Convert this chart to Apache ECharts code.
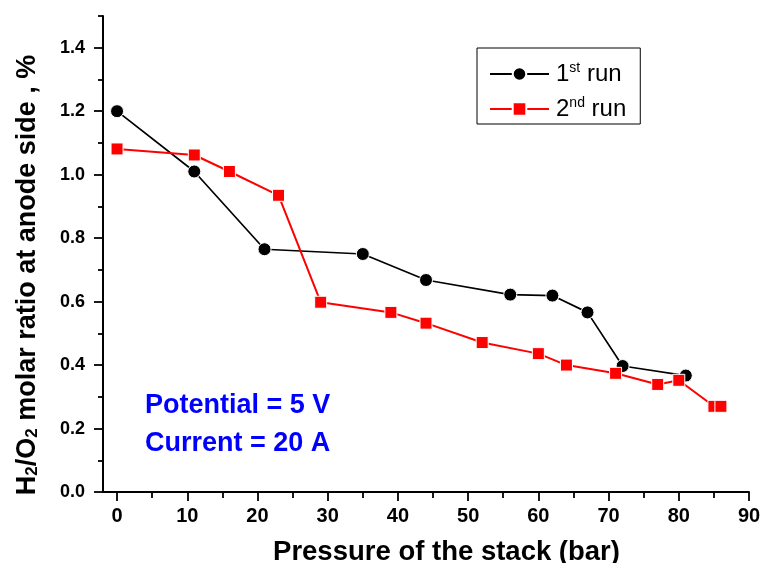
<!DOCTYPE html>
<html>
<head>
<meta charset="utf-8">
<script src="https://cdn.jsdelivr.net/npm/echarts@6/dist/echarts.min.js"></script>
<style>
  html, body { margin: 0; padding: 0; background: #fff; }
  #chart { width: 763px; height: 563px; }
</style>
</head>
<body>
<div id="chart"></div>
<script>
// data
const run1X = [0, 11, 21, 35, 44, 56, 62, 67, 72, 81];
const run1Y = [1.2, 1.01, 0.765, 0.75, 0.668, 0.622, 0.619, 0.566, 0.397, 0.367];
const run2X = [0, 11, 16, 23, 29, 39, 44, 52, 60, 64, 71, 77, 80, 85, 86];
const run2Y = [1.081, 1.062, 1.01, 0.935, 0.598, 0.566, 0.532, 0.471, 0.436, 0.4, 0.374, 0.339, 0.352, 0.27, 0.27];

const xTicks = [0, 10, 20, 30, 40, 50, 60, 70, 80, 90];
const xMinorTicks = [5, 15, 25, 35, 45, 55, 65, 75, 85];
const yTicks = [0, 0.2, 0.4, 0.6, 0.8, 1.0, 1.2, 1.4];
const yMinorTicks = [0.1, 0.3, 0.5, 0.7, 0.9, 1.1, 1.3, 1.5];

const FONT = "'Liberation Sans', Arial, sans-serif";

const chart = echarts.init(document.getElementById("chart"));

function pairs(xs, ys) {
  return xs.map((x, i) => [x, ys[i]]);
}

const lineAxis = { show: true, onZero: false, lineStyle: { color: "#000", width: 2 } };

const option = {
  backgroundColor: "#fff",
  animation: false,
  grid: {
    left: 103,
    right: 14,
    top: 16,
    bottom: 71,
    containLabel: false,
    outerBoundsMode: "none",
  },
  legend: {
    left: 477,
    top: 48,
    orient: "vertical",
    padding: [12, 14, 1, 12],
    itemGap: 7,
    itemWidth: 59,
    itemHeight: 17,
    borderColor: "#000",
    borderWidth: 1,
    formatter: (name) => name.replace(/^(\d)(st|nd)/, "$1{sup|$2}"),
    textStyle: {
      fontFamily: FONT,
      fontSize: 24,
      lineHeight: 28,
      color: "#000",
      padding: [0, 0, 0, 2],
      rich: {
        sup: { fontFamily: FONT, fontSize: 14, lineHeight: 14, verticalAlign: "top", padding: [1, 0, 0, 0], color: "#000" },
      },
    },
  },
  xAxis: [
    {
      type: "value",
      min: -2,
      max: 90,
      name: "Pressure of the stack (bar)",
      nameLocation: "middle",
      nameGap: 46,
      nameTextStyle: { fontFamily: FONT, fontSize: 27.5, fontWeight: "bold", color: "#000", padding: [0, 0, 0, 41] },
      axisLine: lineAxis,
      axisTick: { show: true, customValues: xTicks, length: 9, lineStyle: { color: "#000", width: 1.8 } },
      axisLabel: { customValues: xTicks, margin: 14, fontFamily: FONT, fontSize: 20, fontWeight: "bold", color: "#000" },
      splitLine: { show: false },
    },
    {
      type: "value",
      min: -2,
      max: 90,
      position: "bottom",
      axisLine: { show: false, onZero: false },
      axisTick: { show: true, customValues: xMinorTicks, length: 6, lineStyle: { color: "#000", width: 1.8 } },
      axisLabel: { show: false },
      splitLine: { show: false },
    },
  ],
  yAxis: [
    {
      type: "value",
      min: 0,
      max: 1.5,
      name: "H{sub|2}/O{sub|2} molar ratio at anode side , %",
      nameLocation: "middle",
      nameGap: 62,
      nameTextStyle: {
        fontFamily: FONT,
        fontSize: 27,
        fontWeight: "bold",
        color: "#000",
        padding: [0, 42, 0, 0],
        rich: {
          sub: { fontFamily: FONT, fontSize: 17, fontWeight: "bold", color: "#000", verticalAlign: "bottom", padding: [8, 0, 0, 0] },
        },
      },
      axisLine: lineAxis,
      axisTick: { show: true, customValues: yTicks, length: 9, lineStyle: { color: "#000", width: 1.8 } },
      axisLabel: {
        customValues: yTicks,
        margin: 18,
        fontFamily: FONT,
        fontSize: 18,
        fontWeight: "bold",
        color: "#000",
        formatter: (v) => v.toFixed(1),
      },
      splitLine: { show: false },
    },
    {
      type: "value",
      min: 0,
      max: 1.5,
      position: "left",
      axisLine: { show: false, onZero: false },
      axisTick: { show: true, customValues: yMinorTicks, length: 5, lineStyle: { color: "#000", width: 1.8 } },
      axisLabel: { show: false },
      splitLine: { show: false },
    },
  ],
  graphic: [
    {
      type: "text",
      left: 145,
      top: 392,
      style: { text: "Potential = 5 V", font: "bold 27px " + FONT, fill: "#0000ff" },
    },
    {
      type: "text",
      left: 145,
      top: 430,
      style: { text: "Current = 20 A", font: "bold 27px " + FONT, fill: "#0000ff" },
    },
  ],
  series: [
    {
      name: "1st run",
      type: "line",
      xAxisIndex: 0,
      yAxisIndex: 0,
      data: pairs(run1X, run1Y),
      symbol: "circle",
      symbolSize: 13,
      lineStyle: { color: "#000", width: 1.7 },
      itemStyle: { color: "#000", borderColor: "#fff", borderWidth: 1 },
    },
    {
      name: "2nd run",
      type: "line",
      xAxisIndex: 0,
      yAxisIndex: 0,
      data: pairs(run2X, run2Y),
      symbol: "rect",
      symbolSize: 12,
      lineStyle: { color: "#ff0000", width: 2 },
      itemStyle: { color: "#ff0000", borderColor: "#fff", borderWidth: 1 },
    },
  ],
};

chart.setOption(option);
</script>
</body>
</html>
